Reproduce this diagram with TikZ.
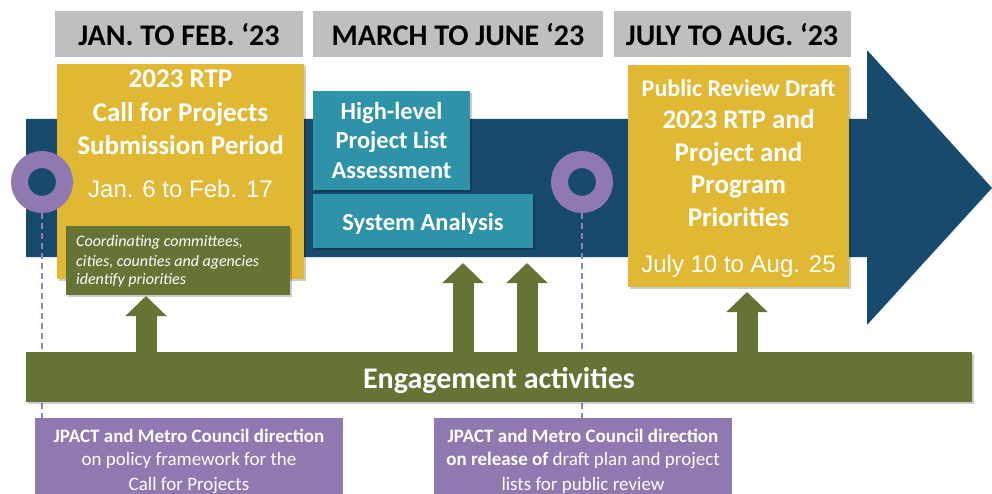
\documentclass[tikz,border=0pt]{standalone}
\usepackage{fontspec}
\setmainfont{Carlito}
\newfontfamily\arialf{Liberation Sans}
\usetikzlibrary{arrows.meta,shadows,calc}
\definecolor{hdrgray}{RGB}{191,191,191}
\definecolor{tlblue}{RGB}{24,74,110}
\definecolor{ylwbox}{RGB}{225,184,52}
\definecolor{olivebox}{RGB}{99,116,52}
\definecolor{tealbox}{RGB}{46,146,168}
\definecolor{purpbox}{RGB}{144,121,176}
\definecolor{dashpurp}{RGB}{150,125,190}
\tikzset{
  rbox/.style={rectangle, inner sep=0pt, outer sep=0pt, anchor=north west},
  shad/.style={drop shadow={shadow xshift=1.5pt, shadow yshift=-2pt, opacity=0.2, fill=black}},
  txt/.style={anchor=base, inner sep=0pt, outer sep=0pt, text=white},
  hdrtxt/.style={anchor=base, inner sep=0pt, text=black, font=\fontsize{30}{32}\selectfont\bfseries},
  bigtxt/.style={txt, font=\fontsize{27}{30}\selectfont\bfseries},
  datetxt/.style={txt, font=\arialf\fontsize{24}{28}\selectfont},
  midtxt/.style={txt, font=\fontsize{24.5}{27}\selectfont\bfseries},
  smalltxt/.style={anchor=base west, inner sep=0pt, text=white, font=\fontsize{16}{18}\selectfont\itshape},
  ptxt/.style={txt, font=\fontsize{19}{21}\selectfont},
  ring/.style={circle, draw=purpbox, line width=17pt, fill=tlblue, minimum size=45pt, inner sep=0pt},
  dashline/.style={draw=dashpurp, line width=2.2pt, dash pattern=on 6pt off 4pt},
  greenarrow/.style={draw=olivebox, line width=21pt, -{Triangle[width=40pt,length=20pt]}}
}
\begin{document}
\begin{tikzpicture}[x=1pt,y=-1pt]
\useasboundingbox (0,0) rectangle (992,494);
\clip (0,0) rectangle (992,494);
% timeline arrow
\fill[tlblue] (26,119) -- (867,119) -- (867,50) -- (992,188) -- (867,325) -- (867,257) -- (26,257) -- cycle;
% headers
\node[rbox, fill=hdrgray, minimum width=248pt, minimum height=46pt] (h1) at (55,11) {};
\node[rbox, fill=hdrgray, minimum width=290pt, minimum height=46pt] (h2) at (313,11) {};
\node[rbox, fill=hdrgray, minimum width=237pt, minimum height=46pt] (h3) at (614,11) {};
\node[hdrtxt] (h1t) at (179,46) {JAN. TO FEB. ‘23};
\node[hdrtxt] (h2t) at (458,46) {MARCH TO JUNE ‘23};
\node[hdrtxt] (h3t) at (732,46) {JULY TO AUG. ‘23};
% yellow box 1
\node[rbox, fill=ylwbox, shad, minimum width=247pt, minimum height=215pt] (y1) at (57,64) {};
\node[bigtxt] (y1a) at (180.5,88) {2023 RTP};
\node[bigtxt] (y1b) at (180.5,122) {Call for Projects};
\node[bigtxt] (y1c) at (180.5,155) {Submission Period};
\node[datetxt] (y1d) at (180.5,198) {Jan. 6 to Feb. 17};
% green box inside
\node[rbox, fill=olivebox, shad, minimum width=224pt, minimum height=69pt] (g1) at (66,226) {};
\node[smalltxt] (g1a) at (76,247) {Coordinating committees,};
\node[smalltxt] (g1b) at (76,266) {cities, counties and agencies};
\node[smalltxt] (g1c) at (76,284) {identify priorities};
% teal boxes
\node[rbox, fill=tealbox, shad, minimum width=157pt, minimum height=99pt] (t1) at (313,91) {};
\node[midtxt] (t1a) at (391.5,120) {High-level};
\node[midtxt] (t1b) at (391.5,149) {Project List};
\node[midtxt] (t1c) at (391.5,179) {Assessment};
\node[rbox, fill=tealbox, shad, minimum width=220pt, minimum height=54pt] (t2) at (313,194) {};
\node[midtxt] (t2a) at (423,230) {System Analysis};
% yellow box 2
\node[rbox, fill=ylwbox, shad, minimum width=221pt, minimum height=222pt] (y2) at (628,65) {};
\node[txt, font=\fontsize{24}{26}\selectfont\bfseries] (y2a) at (738.5,97) {Public Review Draft};
\node[bigtxt] (y2b) at (738.5,129) {2023 RTP and};
\node[bigtxt] (y2c) at (738.5,162) {Project and};
\node[bigtxt] (y2d) at (738.5,194) {Program};
\node[bigtxt] (y2e) at (738.5,227) {Priorities};
\node[datetxt] (y2f) at (738.5,272) {July 10 to Aug. 25};
% purple boxes
\node[rbox, fill=purpbox, minimum width=308pt, minimum height=90pt] (p1) at (35,418) {};
\node[ptxt, font=\fontsize{19}{21}\selectfont\bfseries] (p1a) at (189,442) {JPACT and Metro Council direction};
\node[ptxt] (p1b) at (189,465) {on policy framework for the};
\node[ptxt] (p1c) at (189,490) {Call for Projects};
\node[rbox, fill=purpbox, minimum width=298pt, minimum height=90pt] (p2) at (434,418) {};
\node[ptxt, font=\fontsize{19}{21}\selectfont\bfseries] (p2a) at (583,442) {JPACT and Metro Council direction};
\node[ptxt] (p2b) at (583,465) {\textbf{on release of} draft plan and project};
\node[ptxt] (p2c) at (583,490) {lists for public review};
% rings and dashed lines
\node[ring] (r1) at (42,182) {};
\node[ring] (r2) at (582,182) {};
\draw[dashline] (r1.south) -- (r1.south |- p1.north);
\draw[dashline] (r2.south) -- (r2.south |- p2.north);
% engagement bar
\node[rbox, fill=olivebox, shad, minimum width=946pt, minimum height=50pt] (eng) at (26,352) {};
\node[txt, font=\fontsize{30}{32}\selectfont\bfseries] (engt) at (499,388) {Engagement activities};
% green arrows
\coordinate (a1) at (146,296);
\coordinate (a2) at (463,263);
\coordinate (a3) at (527,263);
\coordinate (a4) at (747,292);
\draw[greenarrow] (a1 |- eng.north) ++(0,1) -- (a1);
\draw[greenarrow] (a2 |- eng.north) ++(0,1) -- (a2);
\draw[greenarrow] (a3 |- eng.north) ++(0,1) -- (a3);
\draw[greenarrow] (a4 |- eng.north) ++(0,1) -- (a4);
\end{tikzpicture}
\end{document}
